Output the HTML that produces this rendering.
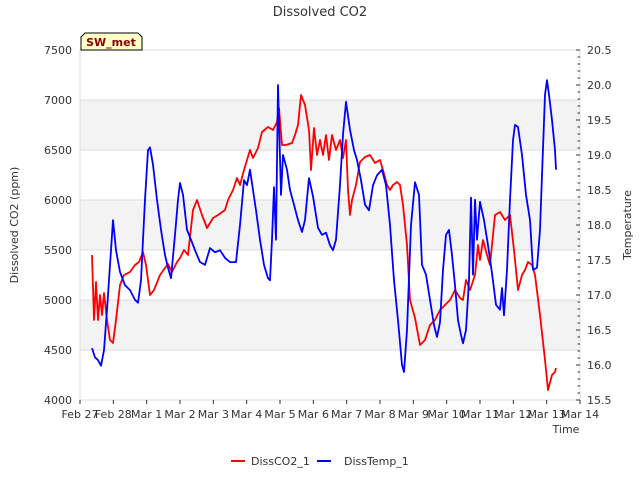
<!DOCTYPE html>
<html><head><meta charset="utf-8"><style>
body{margin:0;background:#fff;font-family:"Liberation Sans","DejaVu Sans",sans-serif}
svg text{font-family:"DejaVu Sans","Liberation Sans",sans-serif}
</style></head><body>
<svg id="c" width="640" height="480" xmlns="http://www.w3.org/2000/svg"></svg>
<script>
const xTickLabels=["Feb 27","Feb 28","Mar 1","Mar 2","Mar 3","Mar 4","Mar 5","Mar 6","Mar 7","Mar 8","Mar 9","Mar 10","Mar 11","Mar 12","Mar 13","Mar 14"];
const leftTicks=[4000,4500,5000,5500,6000,6500,7000,7500];
const rightTicks=[15.5,16.0,16.5,17.0,17.5,18.0,18.5,19.0,19.5,20.0,20.5];
const co2Days=[0.36,0.42,0.48,0.54,0.6,0.66,0.72,0.81,0.9,0.99,1.08,1.2,1.32,1.5,1.65,1.77,1.89,1.98,2.1,2.22,2.4,2.55,2.64,2.76,2.91,3.0,3.12,3.24,3.39,3.51,3.66,3.81,3.99,4.14,4.35,4.44,4.59,4.71,4.8,4.92,5.1,5.19,5.34,5.46,5.64,5.79,5.91,5.97,6.06,6.18,6.36,6.45,6.54,6.63,6.75,6.87,6.93,7.02,7.11,7.2,7.29,7.38,7.47,7.56,7.68,7.8,7.89,7.98,8.04,8.1,8.16,8.28,8.4,8.55,8.7,8.85,9.0,9.09,9.21,9.3,9.39,9.51,9.6,9.69,9.81,9.9,10.05,10.2,10.35,10.5,10.65,10.8,10.95,11.1,11.25,11.4,11.49,11.58,11.7,11.85,11.94,12.0,12.09,12.21,12.3,12.45,12.6,12.75,12.9,13.02,13.14,13.26,13.35,13.44,13.56,13.65,13.8,13.95,14.04,14.16,14.25,14.28];
const co2Vals=[5450,4800,5180,4800,5050,4850,5070,4800,4600,4570,4800,5150,5250,5280,5350,5380,5480,5350,5050,5100,5250,5320,5360,5280,5380,5420,5500,5450,5900,6000,5850,5720,5820,5850,5900,6000,6100,6220,6150,6300,6500,6420,6520,6680,6730,6700,6780,6920,6550,6550,6570,6650,6750,7050,6950,6700,6300,6720,6450,6600,6450,6650,6400,6650,6500,6600,6420,6600,6100,5850,6000,6150,6380,6430,6450,6370,6400,6300,6150,6100,6150,6180,6150,5950,5550,5000,4820,4550,4600,4750,4800,4900,4950,5000,5100,5020,5000,5200,5100,5250,5550,5400,5600,5450,5350,5850,5880,5800,5850,5500,5100,5250,5300,5380,5350,5250,4850,4400,4100,4250,4280,4320];
const tempDays=[0.36,0.45,0.54,0.63,0.72,0.81,0.93,0.99,1.08,1.2,1.35,1.5,1.65,1.74,1.83,1.89,1.95,2.04,2.1,2.19,2.31,2.43,2.55,2.64,2.73,2.85,2.94,3.0,3.09,3.21,3.33,3.45,3.6,3.75,3.9,4.05,4.2,4.35,4.5,4.68,4.8,4.92,5.01,5.1,5.19,5.28,5.4,5.52,5.64,5.7,5.76,5.82,5.88,5.94,6.03,6.09,6.21,6.3,6.42,6.54,6.66,6.75,6.87,6.99,7.14,7.26,7.38,7.5,7.59,7.68,7.8,7.89,7.98,8.1,8.22,8.31,8.43,8.55,8.67,8.79,8.91,9.06,9.18,9.3,9.42,9.54,9.66,9.72,9.81,9.93,10.05,10.17,10.26,10.38,10.5,10.62,10.71,10.8,10.89,10.98,11.07,11.16,11.25,11.34,11.43,11.49,11.58,11.67,11.73,11.79,11.85,11.91,12.0,12.12,12.24,12.36,12.48,12.6,12.66,12.72,12.81,12.9,12.99,13.05,13.14,13.26,13.38,13.5,13.59,13.71,13.8,13.86,13.95,14.01,14.07,14.16,14.25,14.28];
const tempVals=[16.24,16.11,16.07,15.99,16.21,16.79,17.64,18.07,17.64,17.33,17.14,17.07,16.93,16.89,17.21,17.79,18.36,19.07,19.11,18.86,18.36,17.93,17.57,17.39,17.24,17.86,18.36,18.6,18.43,17.93,17.79,17.64,17.47,17.43,17.67,17.61,17.64,17.53,17.47,17.47,18.0,18.64,18.57,18.79,18.5,18.21,17.79,17.43,17.24,17.21,17.79,18.54,17.79,20.0,18.43,19.0,18.79,18.5,18.29,18.07,17.9,18.07,18.67,18.41,17.96,17.86,17.89,17.71,17.64,17.79,18.57,19.29,19.76,19.36,19.07,18.93,18.64,18.29,18.21,18.57,18.71,18.79,18.57,18.0,17.21,16.64,16.0,15.9,16.5,18.0,18.61,18.43,17.43,17.29,16.93,16.57,16.4,16.61,17.36,17.86,17.93,17.57,17.14,16.64,16.43,16.31,16.5,17.21,18.39,17.29,18.36,17.79,18.33,18.07,17.71,17.31,16.86,16.79,17.1,16.71,17.36,18.36,19.21,19.43,19.4,19.0,18.43,18.07,17.36,17.39,17.93,18.71,19.86,20.07,19.86,19.5,19.07,18.79];

const NS="http://www.w3.org/2000/svg";
const svg=document.getElementById('c');
const L=80,R=580,T=50,B=400;
const xs=d=>L+d*(R-L)/15;
const yl=v=>B-(v-4000)*(B-T)/3500;
const yr=v=>B-(v-15.5)*(B-T)/5;
function el(tag,attrs,parent){const e=document.createElementNS(NS,tag);for(const k in attrs)e.setAttribute(k,attrs[k]);(parent||svg).appendChild(e);return e;}
function txt(s,attrs){const e=el('text',attrs);e.textContent=s;return e;}

// bands
[[4500,5000],[5500,6000],[6500,7000]].forEach((b,i)=>{
 const r=el('rect',{x:L,y:yl(b[1]),width:R-L,height:yl(b[0])-yl(b[1]),fill:'#f3f3f3'});
 
 
});
leftTicks.forEach(v=>{
 const g=el('line',{x1:L,x2:R,y1:yl(v),y2:yl(v),stroke:'#dcdcdc','stroke-width':1});
 
 
 const t=txt(v,{x:L-8,y:yl(v)+4,'text-anchor':'end','font-size':11,fill:'#333'});
 
 
});
el('rect',{x:L,y:T,width:R-L,height:B-T,fill:'none',stroke:'#dcdcdc'});
rightTicks.forEach(v=>{
 el('line',{x1:R,x2:R-4,y1:yr(v),y2:yr(v),stroke:'#333'});
 const t=txt(v.toFixed(1),{x:R+7,y:yr(v)+4,'font-size':11,fill:'#333'});
 
 
});
for(let v=15.5;v<=20.5001;v+=0.1){el('line',{x1:R,x2:R-2.5,y1:yr(v),y2:yr(v),stroke:'#333'});}
xTickLabels.forEach((s,i)=>{
 el('line',{x1:xs(i),x2:xs(i),y1:B,y2:B+4,stroke:'#333'});
 const t=txt(s,{x:xs(i),y:B+18,'text-anchor':'middle','font-size':11,fill:'#333'});
 
 
});
function line(days,vals,yf,color,name){
 const p=el('polyline',{points:days.map((d,i)=>xs(d)+','+yf(vals[i])).join(' '),fill:'none',stroke:color,'stroke-width':1.8,'stroke-linejoin':'round'});
 
 
}
line(co2Days,co2Vals,yl,'#ff0000','co2-line');
line(tempDays,tempVals,yr,'#0000ff','temp-line');
</script>
<svg width="640" height="480" style="position:absolute;left:0;top:0" xmlns="http://www.w3.org/2000/svg">
<text x="320" y="16" text-anchor="middle" font-size="13" fill="#333">Dissolved CO2</text>
<text transform="translate(18,225) rotate(-90)" text-anchor="middle" font-size="11" fill="#333">Dissolved CO2 (ppm)</text>
<text transform="translate(631,225) rotate(-90)" text-anchor="middle" font-size="11" fill="#333">Temperature</text>
<text x="566" y="433" text-anchor="middle" font-size="11" fill="#333">Time</text>
<g>
<path d="M81,50 L81,37 L85,33 L138,33 L142,37 L142,50 Z" fill="#ffffc8" stroke="#000" stroke-width="1"/>
<text x="111" y="46" text-anchor="middle" font-size="11" font-weight="bold" fill="#8b0000">SW_met</text>
</g>
<g>
<line x1="231" x2="245" y1="461" y2="461" stroke="#ff0000" stroke-width="2"/>
<text x="251" y="465" font-size="11" fill="#333">DissCO2_1</text></g>
<g>
<line x1="317" x2="331" y1="461" y2="461" stroke="#0000ff" stroke-width="2"/>
<text x="344" y="465" font-size="11" fill="#333">DissTemp_1</text></g>
</svg>
</body></html>
